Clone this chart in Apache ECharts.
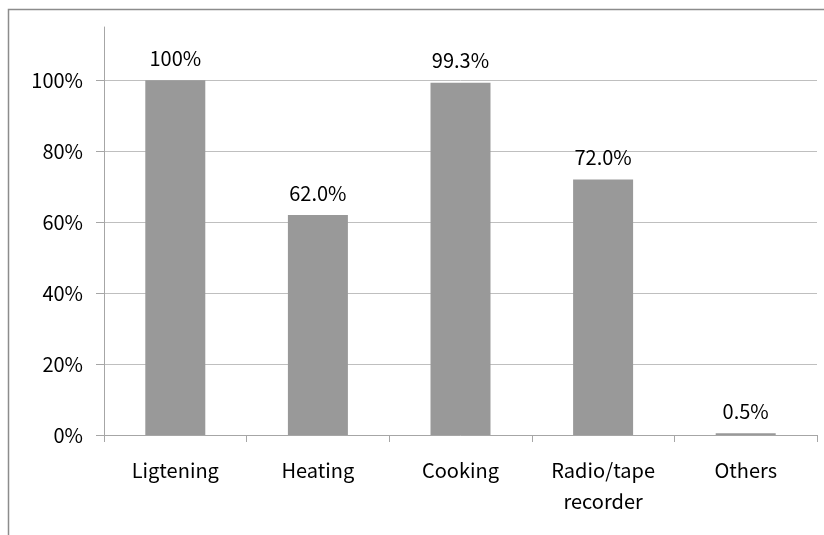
<!DOCTYPE html>
<html>
<head>
<meta charset="utf-8">
<script src="https://cdn.jsdelivr.net/npm/echarts@6/dist/echarts.min.js"></script>
<style>
  html, body { margin: 0; padding: 0; background: #fff; }
  #chart { width: 824px; height: 535px; }
</style>
</head>
<body>
<div id="chart"></div>
<script>
// Household energy use by purpose (share of households, %)
const categories = ['Ligtening', 'Heating', 'Cooking', 'Radio/tape\nrecorder', 'Others'];
const shares = [100, 62.0, 99.3, 72.0, 0.5];
const yTicks = [0, 20, 40, 60, 80, 100];

const FONT = '"Noto Sans CJK JP", "Noto Sans", sans-serif';
const FONT_SIZE = 20;

const chart = echarts.init(document.getElementById('chart'), null, { renderer: 'canvas' });

chart.setOption({
  animation: false,
  backgroundColor: '#ffffff',
  textStyle: { fontFamily: FONT },
  graphic: [{
    type: 'rect',
    shape: { x: 8.5, y: 9.5, width: 840, height: 560 },
    style: { fill: 'none', stroke: '#8c8c8c', lineWidth: 1.5 },
    silent: true,
    z: -1
  }],
  grid: { left: 104, right: 7, top: 27, bottom: 100, containLabel: false },
  xAxis: {
    type: 'category',
    data: categories,
    axisLine: { lineStyle: { color: '#a6a6a6', width: 1 } },
    axisTick: { show: true, length: 7, lineStyle: { color: '#a6a6a6' } },
    axisLabel: {
      margin: 20,
      color: '#000',
      fontSize: FONT_SIZE,
      fontFamily: FONT,
      lineHeight: 31,
      interval: 0
    }
  },
  yAxis: {
    type: 'value',
    min: 0,
    max: 115,
    interval: 20,
    axisLine: { show: true, lineStyle: { color: '#a6a6a6', width: 1 } },
    axisTick: { show: true, length: 8, customValues: yTicks, lineStyle: { color: '#a6a6a6' } },
    axisLabel: {
      customValues: yTicks,
      margin: 21,
      color: '#000',
      fontSize: FONT_SIZE,
      fontFamily: FONT,
      formatter: v => v + '%'
    },
    splitLine: { show: true, lineStyle: { color: '#bfbfbf', width: 1 } }
  },
  series: [{
    type: 'bar',
    data: shares,
    barWidth: 60,
    itemStyle: { color: '#999999' },
    label: {
      show: true,
      position: 'top',
      distance: 12,
      color: '#000',
      fontSize: FONT_SIZE,
      fontFamily: FONT,
      formatter: p => (p.value === 100 ? '100' : p.value.toFixed(1)) + '%'
    }
  }]
});
</script>
</body>
</html>
